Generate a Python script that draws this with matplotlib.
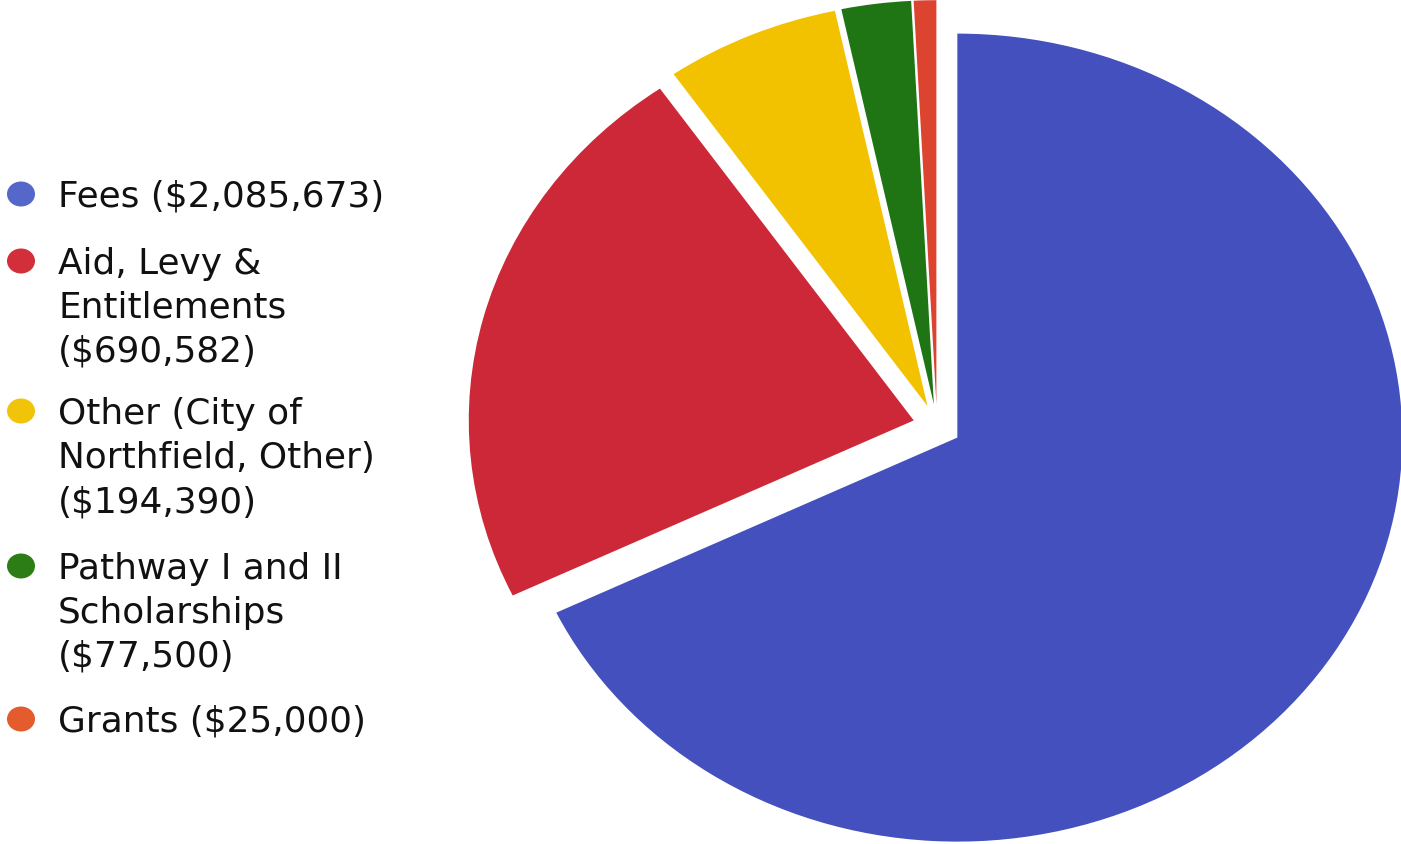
import matplotlib.pyplot as plt
from matplotlib.patches import Ellipse

labels = ["Fees ($2,085,673)",
          "Aid, Levy &\nEntitlements\n($690,582)",
          "Other (City of\nNorthfield, Other)\n($194,390)",
          "Pathway I and II\nScholarships\n($77,500)",
          "Grants ($25,000)"]
values = [2085673, 690582, 194390, 77500, 25000]
colors = ['#4350BE', '#CD2838', '#F2C200', '#1F7514', '#DD4430']
dot_colors = ['#5567C8', '#D22F3A', '#F1C40A', '#2D7D16', '#E45B2E']

W, H = 1401, 845
fig = plt.figure(figsize=(W / 100, H / 100), dpi=100)

# the scan is a bit stretched sideways, so the pie is an ellipse
cx, cy, rx, ry = 937, 427, 445, 404
lim = 1.08
ax = fig.add_axes([(cx - lim * rx) / W, (H - cy - lim * ry) / H,
                   2 * lim * rx / W, 2 * lim * ry / H])
ax.pie(values, colors=colors, startangle=90, counterclock=False,
       explode=[0.054] * len(values), wedgeprops=dict(linewidth=0))
ax.set_aspect('auto')
ax.set_xlim(-lim, lim)
ax.set_ylim(-lim, lim)

# legend drawn by hand in pixel coordinates
lg = fig.add_axes([0, 0, 450 / W, 1])
lg.set_xlim(0, 450)
lg.set_ylim(H, 0)
lg.axis('off')

baselines = [[207], [274, 318, 362], [424, 468, 512], [579, 623, 667], [732]]
for lab, col, ys in zip(labels, dot_colors, baselines):
    lg.add_patch(Ellipse((21, ys[0] - 12), 28, 25, color=col, lw=0))
    for line, y in zip(lab.split('\n'), ys):
        lg.text(58, y, line, fontsize=25.8, family='DejaVu Sans',
                color='#111111', va='baseline', ha='left')

fig.savefig('out.png', dpi=100)
